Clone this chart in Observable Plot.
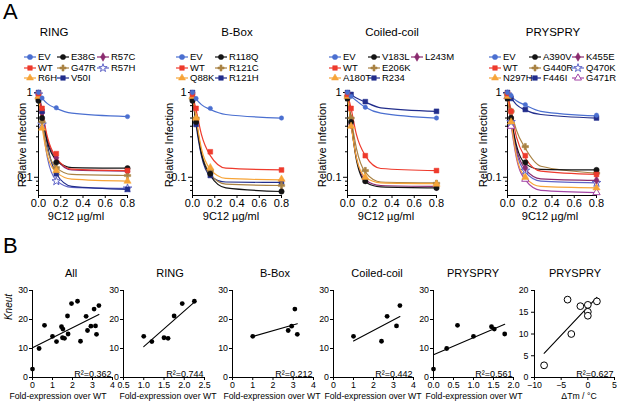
<!DOCTYPE html>
<html><head><meta charset="utf-8">
<script src="https://cdn.jsdelivr.net/npm/d3@7"></script>
<script src="https://cdn.jsdelivr.net/npm/@observablehq/plot@0.6"></script>
<style>
html,body{margin:0;padding:0;background:#fff;}
#chart{position:relative;width:617px;height:402px;overflow:hidden;font-family:"Liberation Sans",Arial,Helvetica,sans-serif;color:#000;background:#fff;}
.t{position:absolute;white-space:nowrap;line-height:1;}
</style></head><body><div id="chart"></div>
<script>
// ================= PANEL A DATA =================
const doses = [0, 0.032, 0.16, 0.8];               // 9C12 µg/ml of measured points
const fitDoses = [0, 0.032, 0.08, 0.16, 0.3, 0.8];  // positions where the fitted curves were read

const ringNames = ["EV","WT","R6H","E38G","G47R","V50I","R57C","R57H"];
const ringPoints = [
  [1.0, 0.86, 0.66, 0.52],
  [0.97, 0.65, 0.19, 0.12],
  [0.9, 0.38, 0.12, 0.09],
  [0.8, 0.5, 0.15, 0.128],
  [0.85, 0.45, 0.13, 0.105],
  [1.0, 0.6, 0.11, 0.072],
  [0.92, 0.58, 0.17, 0.118],
  [0.95, 0.42, 0.09, 0.074]
];
const ringFits = [
  [0.98, 0.86, 0.74, 0.65, 0.57, 0.52],
  [0.97, 0.62, 0.3, 0.17, 0.125, 0.12],
  [0.9, 0.4, 0.18, 0.115, 0.095, 0.09],
  [0.85, 0.52, 0.26, 0.16, 0.13, 0.128],
  [0.88, 0.46, 0.21, 0.13, 0.108, 0.105],
  [1.0, 0.62, 0.24, 0.11, 0.078, 0.072],
  [0.93, 0.58, 0.28, 0.165, 0.122, 0.118],
  [0.97, 0.45, 0.17, 0.092, 0.076, 0.074]
];

const bboxNames = ["EV","WT","Q88K","R118Q","R121C","R121H"];
const bboxPoints = [
  [1.0, 0.85, 0.65, 0.5],
  [0.95, 0.65, 0.2, 0.122],
  [0.9, 0.5, 0.13, 0.095],
  [0.8, 0.45, 0.11, 0.068],
  [0.85, 0.5, 0.12, 0.08],
  [1.0, 0.42, 0.105, 0.088]
];
const bboxFits = [
  [0.98, 0.84, 0.72, 0.63, 0.55, 0.5],
  [0.95, 0.63, 0.32, 0.18, 0.128, 0.122],
  [0.9, 0.5, 0.22, 0.125, 0.097, 0.093],
  [0.85, 0.45, 0.19, 0.105, 0.075, 0.068],
  [0.88, 0.48, 0.2, 0.11, 0.083, 0.08],
  [0.95, 0.42, 0.18, 0.103, 0.088, 0.087]
];

const coilNames = ["EV","WT","A180T","V183L","E206K","R234","L243M"];
const coilPoints = [
  [1.0, 0.9, 0.67, 0.5],
  [0.95, 0.65, 0.18, 0.12],
  [0.9, 0.4, 0.1, 0.083],
  [0.85, 0.45, 0.09, 0.075],
  [0.9, 0.5, 0.12, 0.085],
  [1.0, 0.95, 0.78, 0.6],
  [0.92, 0.42, 0.095, 0.078]
];
const coilFits = [
  [0.98, 0.9, 0.8, 0.67, 0.57, 0.5],
  [0.97, 0.65, 0.32, 0.18, 0.127, 0.12],
  [0.92, 0.42, 0.17, 0.1, 0.086, 0.084],
  [0.9, 0.44, 0.16, 0.088, 0.077, 0.075],
  [0.93, 0.5, 0.22, 0.115, 0.088, 0.086],
  [1.0, 0.94, 0.86, 0.77, 0.66, 0.6],
  [0.93, 0.43, 0.17, 0.093, 0.08, 0.078]
];

const prysNames = ["EV","WT","N297H","A390V","G440R","F446I","K455E","Q470K","G471R"];
const prysPoints = [
  [1.0, 0.92, 0.72, 0.54],
  [0.97, 0.6, 0.18, 0.108],
  [0.9, 0.45, 0.1, 0.075],
  [0.85, 0.5, 0.15, 0.122],
  [0.95, 0.6, 0.23, 0.112],
  [1.0, 0.85, 0.63, 0.5],
  [0.92, 0.5, 0.13, 0.092],
  [0.95, 0.45, 0.12, 0.086],
  [0.9, 0.4, 0.095, 0.066]
];
const prysFits = [
  [0.98, 0.9, 0.8, 0.71, 0.6, 0.53],
  [0.97, 0.6, 0.3, 0.17, 0.118, 0.108],
  [0.92, 0.45, 0.18, 0.1, 0.078, 0.075],
  [0.9, 0.5, 0.24, 0.145, 0.124, 0.122],
  [0.97, 0.62, 0.36, 0.22, 0.135, 0.112],
  [0.98, 0.86, 0.72, 0.62, 0.55, 0.5],
  [0.93, 0.5, 0.22, 0.125, 0.096, 0.092],
  [0.95, 0.46, 0.2, 0.115, 0.09, 0.086],
  [0.92, 0.42, 0.17, 0.093, 0.07, 0.066]
];

const doseTicks = [0, 0.2, 0.4, 0.6, 0.8];
const infTicks = [0.1, 1];
const infMinorTicks = [0.07, 0.08, 0.09, 0.2, 0.3, 0.4, 0.5, 0.6, 0.7, 0.8, 0.9];

// ================= PANEL B DATA =================
const ringExpr  = [1.0, 1.2, 1.5, 1.6, 1.75, 1.95, 2.25];
const ringKneut = [14.2, 12.4, 13.7, 13.5, 21.2, 25.5, 26.3];
const bboxExpr  = [1.0, 2.75, 2.92, 3.08, 3.2];
const bboxKneut = [14.2, 16.2, 17.7, 23.6, 14.9];
const coilExpr  = [1.0, 2.4, 2.68, 3.15, 3.32];
const coilKneut = [14.2, 12.5, 21.1, 17.8, 24.8];
const prysExpr  = [0, 0.33, 0.6, 1.0, 1.45, 1.52, 1.78];
const prysKneut = [2.9, 10, 18, 14.2, 17.5, 16.7, 15];
const tmDelta   = [-8.2, -3.8, -3.1, -1.4, 0, 0, 0, 1.7];
const tmKneut   = [2.8, 17.9, 10, 16.4, 16.7, 15.1, 14.2, 17.5];
const r2Labels  = {all: "0.362", ring: "0.744", bbox: "0.212", coil: "0.442", prys: "0.561", tm: "0.627"};

// ================= STYLE =================
const FONT = '"Liberation Sans", Arial, Helvetica, sans-serif';
const slotColor = ["#4a6fd0","#ee3a2c","#f7a437","#141414","#a98243","#222e8c","#8a2b6f","#6065c8","#a447a6"];
const slotSymbol = ["circle","square","triangle","circle","cross","square","diamond","star","triangle"];
const slotOpen = [false,false,false,false,false,false,false,true,true];
const d3Sym = {circle: d3.symbolCircle, square: d3.symbolSquare, triangle: d3.symbolTriangle, cross: d3.symbolCross, diamond: d3.symbolDiamond, star: d3.symbolStar};

const chart = document.getElementById("chart");

function addText(txt, x, y, o = {}) {
  const d = document.createElement("div");
  d.className = "t";
  d.textContent = txt;
  d.style.fontSize = (o.size || 11) + "px";
  if (o.italic) d.style.fontStyle = "italic";
  const anchor = o.anchor || "middle";
  const tx = anchor === "middle" ? "-50%" : anchor === "end" ? "-100%" : "0";
  d.style.left = x + "px";
  d.style.top = y + "px";
  d.style.transform = o.rotate ? `translate(-50%,-50%) rotate(${o.rotate}deg)` : `translate(${tx},-50%)`;
  chart.appendChild(d);
}

function place(el, left, top) {
  el.style.position = "absolute";
  el.style.left = left + "px";
  el.style.top = top + "px";
  el.style.maxWidth = "none";
  chart.appendChild(el);
}

// ---------- Panel A builder ----------
const A = {ml: 30, mr: 10, mt: 12, mb: 16, xr: 89, yr: 103, top: 80};
const yDomA = [0.061, 1];
const xDomA = [0, 0.8];

function panelA(title, names, pts, fits, g) {
  const marks = [
    Plot.ruleX([xDomA[0]], {stroke: "black", strokeWidth: 1}),
    Plot.ruleY([yDomA[0]], {stroke: "black", strokeWidth: 1}),
    Plot.axisX(doseTicks, {tickSize: 3, tickPadding: 1, tickFormat: d3.format(".1f"), label: null, fontSize: 11}),
    Plot.axisY(infTicks, {tickSize: 4, tickPadding: 2, tickFormat: d => String(d), label: null, fontSize: 11}),
    Plot.axisY(infMinorTicks, {tickSize: 2, tickPadding: 0, tickFormat: () => "", label: null})
  ];
  const order = d3.range(names.length).reverse();
  for (const i of order) {
    const c = slotColor[i];
    marks.push(Plot.line(fitDoses.map((x, j) => ({x, y: fits[i][j]})), {x: "x", y: "y", stroke: c, strokeWidth: 1.2, curve: "monotone-x"}));
  }
  for (const i of order) {
    const c = slotColor[i];
    marks.push(Plot.dot(doses.map((x, j) => ({x, y: pts[i][j]})), {
      x: "x", y: "y", symbol: slotSymbol[i], r: i === 0 ? 2.2 : 2.7,
      fill: slotOpen[i] ? "white" : c, stroke: c, strokeWidth: slotOpen[i] ? 1 : 0.5
    }));
  }
  const p = Plot.plot({
    width: A.ml + A.xr + A.mr, height: A.mt + A.yr + A.mb,
    marginLeft: A.ml, marginRight: A.mr, marginTop: A.mt, marginBottom: A.mb,
    x: {domain: xDomA}, y: {type: "log", domain: yDomA},
    style: {fontFamily: FONT, fontSize: "11px", background: "transparent", color: "black", overflow: "visible"},
    marks
  });
  place(p, g.axisX - A.ml, A.top);
  addText(title, g.titleX, 33, {size: 11.5});
  addText("Relative Infection", g.yLabelX, 145, {size: 11, rotate: -90});
  addText("9C12 µg/ml", g.xLabelX, 216, {size: 11});
  // legend (column-major, 3 rows)
  const rows = [57, 67.5, 78];
  names.forEach((n, i) => {
    const col = Math.floor(i / 3), row = i % 3;
    const mx = g.legend[col], my = rows[row];
    const svg = d3.create("svg").attr("width", 14).attr("height", 10)
      .style("position", "absolute").style("left", (mx - 7) + "px").style("top", (my - 5) + "px").style("overflow", "visible");
    svg.append("line").attr("x1", 1).attr("x2", 13).attr("y1", 5).attr("y2", 5).attr("stroke", slotColor[i]).attr("stroke-width", 1.2);
    svg.append("path").attr("transform", "translate(7,5)")
      .attr("d", d3.symbol(d3Sym[slotSymbol[i]], Math.PI * 2.6 * 2.6)())
      .attr("fill", slotOpen[i] ? "white" : slotColor[i]).attr("stroke", slotColor[i]).attr("stroke-width", slotOpen[i] ? 1 : 0.5);
    chart.appendChild(svg.node());
    addText(n, mx + 8, my, {size: 9.5, anchor: "start"});
  });
}

panelA("RING", ringNames, ringPoints, ringFits, {axisX: 38, titleX: 54, yLabelX: 22, xLabelX: 76, legend: [30, 63, 103]});
panelA("B-Box", bboxNames, bboxPoints, bboxFits, {axisX: 192, titleX: 237, yLabelX: 169, xLabelX: 231, legend: [182, 221, 260]});
panelA("Coiled-coil", coilNames, coilPoints, coilFits, {axisX: 347, titleX: 392, yLabelX: 322, xLabelX: 386, legend: [335, 374, 417]});
panelA("PRYSPRY", prysNames, prysPoints, prysFits, {axisX: 507, titleX: 553, yLabelX: 483, xLabelX: 550, legend: [495, 535, 578]});

// ---------- Panel B builder ----------
const B = {ml: 24, mr: 10, mt: 10, mb: 16, yr: 87, top: 280};

function panelB(title, xs, ys, g) {
  const data = xs.map((x, i) => ({x, y: ys[i]}));
  const p = Plot.plot({
    width: B.ml + g.xr + B.mr, height: B.mt + B.yr + B.mb,
    marginLeft: B.ml, marginRight: B.mr, marginTop: B.mt, marginBottom: B.mb,
    x: {domain: g.xDom}, y: {domain: g.yDom},
    style: {fontFamily: FONT, fontSize: "8.8px", background: "transparent", color: "black", overflow: "visible"},
    marks: [
      Plot.ruleX([g.xDom[0]], {stroke: "black", strokeWidth: 1}),
      Plot.ruleY([g.yDom[0]], {stroke: "black", strokeWidth: 1}),
      Plot.axisX(g.xTicks, {tickSize: 3, tickPadding: 1.5, tickFormat: g.xFmt, label: null, fontSize: 8.8}),
      Plot.axisY(g.yTicks, {tickSize: 3, tickPadding: g.yPad || 1.5, tickFormat: d => String(d), label: null, fontSize: 8.8}),
      Plot.linearRegressionY(data, {x: "x", y: "y", ci: 0, stroke: "black", strokeWidth: 1.1}),
      Plot.dot(data, {x: "x", y: "y", r: g.open ? 3.4 : 2.4, fill: g.open ? "white" : "black", stroke: "black", strokeWidth: g.open ? 1 : 0}),
      Plot.text([g.r2], {frameAnchor: "bottom-right", text: d => "R²=" + d, lineAnchor: "bottom", dy: -1, dx: -1, fontSize: 9})
    ]
  });
  place(p, g.axisX - B.ml, B.top);
  addText(title, g.titleX, 273, {size: 11});
  addText(g.xLabel, g.xLabelX, 395.5, {size: 8.7});
}

const allExpr = [...ringExpr, ...bboxExpr.slice(1), ...coilExpr.slice(1), ...prysExpr.filter((x, i) => prysExpr[i] !== 1.0)];
const allKneut = [...ringKneut, ...bboxKneut.slice(1), ...coilKneut.slice(1), ...prysKneut.filter((y, i) => prysExpr[i] !== 1.0)];

const fold = "Fold-expression over WT";
const int = d3.format("d"), one = d3.format(".1f");
const kTicks = [0, 10, 20, 30];
panelB("All", allExpr, allKneut, {axisX: 31.7, xr: 80, xDom: [0, 4], yDom: [0, 30], xTicks: [0,1,2,3,4], xFmt: int, yTicks: kTicks, r2: r2Labels.all, titleX: 71, xLabel: fold, xLabelX: 58});
panelB("RING", ringExpr, ringKneut, {axisX: 122.5, xr: 81, xDom: [0.5, 2.5], yDom: [0, 30], xTicks: [0.5,1,1.5,2,2.5], xFmt: one, yTicks: kTicks, r2: r2Labels.ring, titleX: 170, xLabel: fold, xLabelX: 168});
panelB("B-Box", bboxExpr, bboxKneut, {axisX: 232.3, xr: 81, xDom: [0, 4], yDom: [0, 30], xTicks: [0,1,2,3,4], xFmt: int, yTicks: kTicks, r2: r2Labels.bbox, titleX: 275, xLabel: fold, xLabelX: 272});
panelB("Coiled-coil", coilExpr, coilKneut, {axisX: 333.3, xr: 80, xDom: [0, 4], yDom: [0, 30], xTicks: [0,1,2,3,4], xFmt: int, yTicks: kTicks, r2: r2Labels.coil, titleX: 377, xLabel: fold, xLabelX: 373});
panelB("PRYSPRY", prysExpr, prysKneut, {axisX: 432.8, xr: 80, xDom: [0, 2], yDom: [0, 30], xTicks: [0,0.5,1,1.5,2], xFmt: one, yTicks: kTicks, r2: r2Labels.prys, titleX: 473, xLabel: fold, xLabelX: 474});
panelB("PRYSPRY", tmDelta, tmKneut, {axisX: 533.8, xr: 80, xDom: [-10, 5], yDom: [0, 20], xTicks: [-10,-5,0,5], xFmt: int, yTicks: [0,5,10,15,20], yPad: 3, r2: r2Labels.tm, titleX: 575, xLabel: "ΔTm / °C", xLabelX: 579, open: true});

addText("Kneut", 9, 307, {size: 10, italic: true, rotate: -90});
addText("A", 3, 12, {size: 22, anchor: "start"});
addText("B", 3, 246, {size: 22, anchor: "start"});
</script></body></html>
